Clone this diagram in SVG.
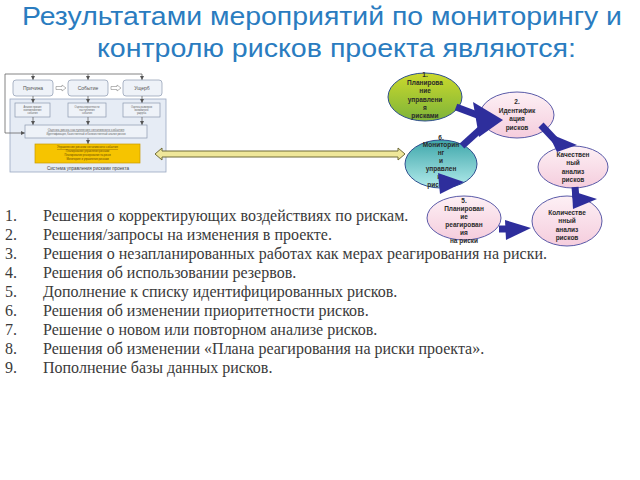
<svg xmlns="http://www.w3.org/2000/svg" width="640" height="480" viewBox="0 0 640 480">
<defs>
<linearGradient id="gGreen" x1="0" y1="0" x2="0" y2="1"><stop offset="0" stop-color="#cbd92c"/><stop offset="1" stop-color="#7db43a"/></linearGradient>
<linearGradient id="gTeal" x1="0" y1="0" x2="0" y2="1"><stop offset="0" stop-color="#3ea6aa"/><stop offset="1" stop-color="#b4ecec"/></linearGradient>
<linearGradient id="gPink" x1="0" y1="0" x2="0" y2="1"><stop offset="0" stop-color="#fdf0f5"/><stop offset="1" stop-color="#f5cddd"/></linearGradient>
<marker id="tick" viewBox="0 0 4 4" refX="4" refY="2" markerWidth="4" markerHeight="4" orient="auto" markerUnits="userSpaceOnUse"><path d="M0,0 L4,2 L0,4 Z" fill="#555"/></marker>
</defs>
<style>
.title{font-family:"Liberation Sans",Arial,sans-serif;font-size:25px;fill:#2a7cc0}
.li{font-family:"Liberation Serif","Times New Roman",serif;font-size:16px;fill:#3a3a3a}
.el{font-family:"Liberation Sans",Arial,sans-serif;font-size:6.5px;font-weight:bold;fill:#2a2a2a;text-anchor:middle}
.pink{fill:url(#gPink);stroke:#5a5aa8;stroke-width:1}
.arr{fill:#2e2e9c}
.shaft{stroke:#2e2e9c;stroke-width:7;fill:none}
.box{fill:#eef2f8;stroke:#8a98b0;stroke-width:0.7}
.tb{font-family:"Liberation Sans",Arial,sans-serif;font-size:5px;fill:#555;text-anchor:middle}
.sm{font-family:"Liberation Sans",Arial,sans-serif;font-size:2.6px;fill:#666;text-anchor:middle}
.ln{stroke:#666;stroke-width:0.8;fill:none}
</style>
<rect width="640" height="480" fill="#ffffff"/>

<g id="title">
<text class="title" x="22" y="25" textLength="600" lengthAdjust="spacingAndGlyphs">Результатами мероприятий по мониторингу и</text>
<text class="title" x="97" y="57" textLength="479" lengthAdjust="spacingAndGlyphs">контролю рисков проекта являются:</text>
</g>

<g id="risk-system">
<rect x="10" y="99" width="156" height="73" fill="#e6ecf5" stroke="#9aa8c0" stroke-width="0.8"/>
<path class="ln" d="M5,133 L5,74 L142,74"/>
<path class="ln" d="M33,74 L33,80" marker-end="url(#tick)"/>
<path class="ln" d="M88,74 L88,80" marker-end="url(#tick)"/>
<path class="ln" d="M142,74 L142,80" marker-end="url(#tick)"/>
<path class="ln" d="M5,133 L25,133" marker-end="url(#tick)"/>
<rect class="box" x="13" y="80" width="40" height="16" rx="3"/>
<rect class="box" x="68" y="80" width="40" height="16" rx="3"/>
<rect class="box" x="123" y="80" width="39" height="16" rx="3"/>
<text class="tb" x="33" y="90">Причина</text>
<text class="tb" x="88" y="90">Событие</text>
<text class="tb" x="142" y="90">Ущерб</text>
<path d="M56,86.5 L62,86.5 L62,85 L66,88 L62,91 L62,89.5 L56,89.5 Z" fill="#fff" stroke="#888" stroke-width="0.6"/>
<path d="M111,86.5 L117,86.5 L117,85 L121,88 L117,91 L117,89.5 L111,89.5 Z" fill="#fff" stroke="#888" stroke-width="0.6"/>
<path class="ln" d="M33,96 L33,103" marker-end="url(#tick)"/>
<path class="ln" d="M88,96 L88,103" marker-end="url(#tick)"/>
<path class="ln" d="M142,96 L142,103" marker-end="url(#tick)"/>
<rect class="box" x="15" y="103" width="35" height="14"/>
<rect class="box" x="68" y="103" width="38" height="14"/>
<rect class="box" x="123" y="103" width="37" height="14"/>
<text class="sm" x="32.5" y="108">Анализ причин</text>
<text class="sm" x="32.5" y="111">возникновения</text>
<text class="sm" x="32.5" y="114">события</text>
<text class="sm" x="87" y="108">Оценка вероятности</text>
<text class="sm" x="87" y="111">наступления</text>
<text class="sm" x="87" y="114">события</text>
<text class="sm" x="141.5" y="108">Оценка размеров</text>
<text class="sm" x="141.5" y="111">возможного</text>
<text class="sm" x="141.5" y="114">ущерба</text>
<path class="ln" d="M33,117 L33,125" marker-end="url(#tick)"/>
<path class="ln" d="M88,117 L88,125" marker-end="url(#tick)"/>
<path class="ln" d="M142,117 L142,125" marker-end="url(#tick)"/>
<rect class="box" x="25" y="125" width="122" height="13"/>
<text class="sm" x="86" y="130.5" style="font-size:3.4px;text-decoration:underline">Оценка риска наступления негативного события</text>
<text class="sm" x="86" y="135">Идентификация, Качественный и Количественный анализ рисков</text>
<path class="ln" d="M88,138 L88,144" marker-end="url(#tick)"/>
<rect x="35" y="144" width="105" height="19" fill="#f6c400" stroke="#c89a00" stroke-width="0.7"/>
<text class="sm" x="87.5" y="148" style="font-size:3.2px;fill:#6a4a00;text-decoration:underline">Управление риском негативного события</text>
<text class="sm" x="87.5" y="152" style="fill:#6a4a00">Планирование управления рисками</text>
<text class="sm" x="87.5" y="156" style="fill:#6a4a00">Планирование реагирования на риски</text>
<text class="sm" x="87.5" y="160" style="fill:#6a4a00">Мониторинг и управление рисками</text>
<text class="tb" x="88" y="169.5" style="font-size:4.6px;fill:#444">Система управления рисками проекта</text>
</g>

<g id="double-arrow">
<path d="M155,154 L162,148 L162,151 L398,151 L398,148 L405,154 L398,160 L398,157 L162,157 L162,160 Z" fill="#efe79a" stroke="#6e6a38" stroke-width="1"/>
</g>

<g id="n1">
<ellipse cx="425" cy="97" rx="37" ry="24" fill="url(#gGreen)" stroke="#2f4f8f" stroke-width="1"/>
<text class="el" x="425" y="77">1.</text>
<text class="el" x="425" y="85">Планирова</text>
<text class="el" x="425" y="93">ние</text>
<text class="el" x="425" y="102">управлени</text>
<text class="el" x="425" y="110">я</text>
<text class="el" x="425" y="118">рисками</text>
</g>
<g id="n2">
<ellipse class="pink" cx="517" cy="115" rx="37" ry="23"/>
<text class="el" x="517" y="104">2.</text>
<text class="el" x="517" y="113">Идентифик</text>
<text class="el" x="517" y="121">ация</text>
<text class="el" x="517" y="130">рисков</text>
</g>
<g id="n3">
<ellipse class="pink" cx="573" cy="167" rx="35" ry="21"/>
<text class="el" x="573" y="157">Качествен</text>
<text class="el" x="573" y="165">ный</text>
<text class="el" x="573" y="174">анализ</text>
<text class="el" x="573" y="182">рисков</text>
</g>
<g id="n4">
<ellipse class="pink" cx="567" cy="221" rx="35" ry="25"/>
<text class="el" x="567" y="215">Количестве</text>
<text class="el" x="567" y="223">нный</text>
<text class="el" x="567" y="232">анализ</text>
<text class="el" x="567" y="240">рисков</text>
</g>
<g id="n5">
<ellipse class="pink" cx="464" cy="218" rx="37" ry="22"/>
<text class="el" x="464" y="203">5.</text>
<text class="el" x="464" y="211">Планирован</text>
<text class="el" x="464" y="219">ие</text>
<text class="el" x="464" y="227">реагирован</text>
<text class="el" x="464" y="235">ия</text>
<text class="el" x="464" y="243">на риски</text>
</g>
<g id="n6">
<ellipse cx="441" cy="164" rx="36" ry="24" fill="url(#gTeal)" stroke="#2f4f8f" stroke-width="1"/>
<text class="el" x="441" y="140">6.</text>
<text class="el" x="441" y="147">Мониторин</text>
<text class="el" x="441" y="155">нг</text>
<text class="el" x="441" y="163">и</text>
<text class="el" x="441" y="171">управлен</text>
<text class="el" x="441" y="179">ие</text>
<text class="el" x="441" y="187">рисками</text>
</g>

<g id="connectors">
<line class="shaft" x1="456" y1="107" x2="480" y2="116"/>
<line class="shaft" x1="462" y1="146" x2="484" y2="126"/>
<polygon class="arr" points="473,102 503,120 479,137"/>
<line class="shaft" x1="541" y1="125" x2="556" y2="141"/>
<polygon class="arr" points="548,133 577,145 557,152"/>
<line class="shaft" x1="575" y1="187" x2="576" y2="198"/>
<polygon class="arr" points="572,191 597,199 573,209"/>
<line class="shaft" x1="499" y1="229" x2="508" y2="229"/>
<polygon class="arr" points="505,220 531,228 506,240"/>
<polygon class="arr" points="438,173 464,182 440,194"/>
</g>

<g id="list">
<text class="li" x="5" y="221">1.</text><text class="li" x="43" y="221">Решения о корректирующих воздействиях по рискам.</text>
<text class="li" x="5" y="240">2.</text><text class="li" x="43" y="240">Решения/запросы на изменения в проекте.</text>
<text class="li" x="5" y="259">3.</text><text class="li" x="43" y="259">Решения о незапланированных работах как мерах реагирования на риски.</text>
<text class="li" x="5" y="278">4.</text><text class="li" x="43" y="278">Решения об использовании резервов.</text>
<text class="li" x="5" y="297">5.</text><text class="li" x="43" y="297">Дополнение к списку идентифицированных рисков.</text>
<text class="li" x="5" y="316">6.</text><text class="li" x="43" y="316">Решения об изменении приоритетности рисков.</text>
<text class="li" x="5" y="335">7.</text><text class="li" x="43" y="335">Решение о новом или повторном анализе рисков.</text>
<text class="li" x="5" y="354">8.</text><text class="li" x="43" y="354">Решения об изменении «Плана реагирования на риски проекта».</text>
<text class="li" x="5" y="373">9.</text><text class="li" x="43" y="373">Пополнение базы данных рисков.</text>
</g>
</svg>
